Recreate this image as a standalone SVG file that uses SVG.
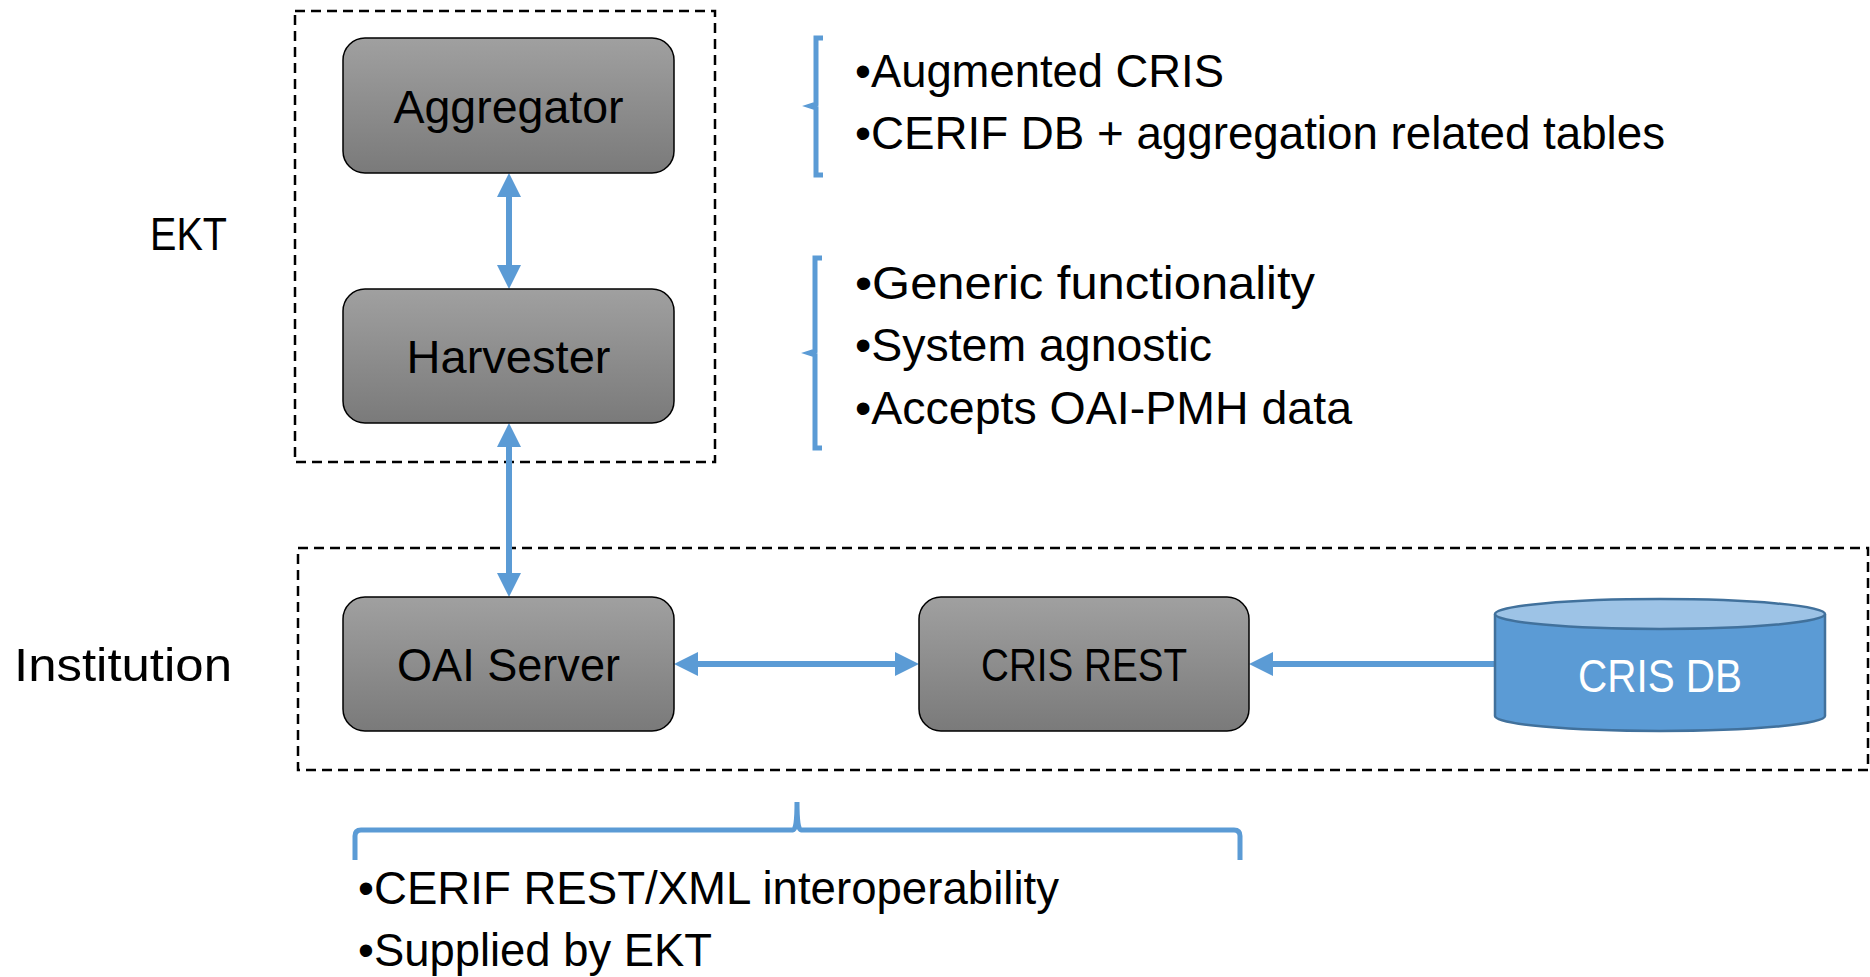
<svg xmlns="http://www.w3.org/2000/svg" width="1870" height="977" viewBox="0 0 1870 977">
<defs>
<linearGradient id="gbox" x1="0" y1="0" x2="0" y2="1">
<stop offset="0" stop-color="#a0a0a0"/>
<stop offset="1" stop-color="#7a7a7a"/>
</linearGradient>
<marker id="ah" markerUnits="userSpaceOnUse" markerWidth="24" markerHeight="24" refX="12" refY="12" orient="auto-start-reverse" viewBox="0 0 24 24">
<path d="M0,0 L24,12 L0,24 z" fill="#5b9bd5"/>
</marker>
</defs>
<style>
.t{font-family:"Liberation Sans",Arial,sans-serif;fill:#000}
.lbl{font-size:47px;text-anchor:middle}
.bul{font-size:46px}
.box{fill:url(#gbox);stroke:#000;stroke-width:1.5}
.grp{fill:none;stroke:#000;stroke-width:2.5;stroke-dasharray:10,6}
.conn{stroke:#5b9bd5;stroke-width:6;fill:none}
.brk{stroke:#5b9bd5;stroke-width:5;fill:none}
</style>
<g id="groups">
<rect class="grp" x="295" y="11" width="420" height="451"/>
<rect class="grp" x="298" y="548" width="1570" height="222"/>
<text class="t" x="150" y="250" font-size="47" textLength="77" lengthAdjust="spacingAndGlyphs">EKT</text>
<text class="t" x="14" y="681" font-size="47" textLength="218" lengthAdjust="spacingAndGlyphs">Institution</text>
</g>
<g id="connectors">
<line class="conn" x1="509" y1="185" x2="509" y2="277" marker-start="url(#ah)" marker-end="url(#ah)"/>
<line class="conn" x1="509" y1="435" x2="509" y2="585" marker-start="url(#ah)" marker-end="url(#ah)"/>
<line class="conn" x1="686" y1="664" x2="907" y2="664" marker-start="url(#ah)" marker-end="url(#ah)"/>
<line class="conn" x1="1494" y1="664" x2="1261" y2="664" marker-end="url(#ah)"/>
</g>
<g id="aggregator">
<rect class="box" x="343" y="38" width="331" height="135" rx="22"/>
<text class="t lbl" x="508.5" y="123" textLength="230" lengthAdjust="spacingAndGlyphs">Aggregator</text>
</g>
<g id="harvester">
<rect class="box" x="343" y="289" width="331" height="134" rx="22"/>
<text class="t lbl" x="508.5" y="373" textLength="204" lengthAdjust="spacingAndGlyphs">Harvester</text>
</g>
<g id="oai-server">
<rect class="box" x="343" y="597" width="331" height="134" rx="22"/>
<text class="t lbl" x="508.5" y="681" textLength="223" lengthAdjust="spacingAndGlyphs">OAI Server</text>
</g>
<g id="cris-rest">
<rect class="box" x="919" y="597" width="330" height="134" rx="22"/>
<text class="t lbl" x="1084" y="681" textLength="206" lengthAdjust="spacingAndGlyphs">CRIS REST</text>
</g>
<g id="cris-db">
<path d="M1495,614 L1495,716 A165,15 0 0 0 1825,716 L1825,614" fill="#5b9bd5" stroke="#41719c" stroke-width="2.5"/>
<ellipse cx="1660" cy="614" rx="165" ry="15" fill="#9dc3e6" stroke="#41719c" stroke-width="2.5"/>
<text class="t lbl" x="1660" y="692" style="fill:#fff" textLength="164" lengthAdjust="spacingAndGlyphs">CRIS DB</text>
</g>
<g id="note-aggregator">
<path class="brk" d="M823,38 L816,38 L816,104 L810,106 L816,108 L816,175 L823,175"/>
<text class="t bul" x="855" y="87" textLength="369" lengthAdjust="spacingAndGlyphs">•Augmented CRIS</text>
<text class="t bul" x="855" y="149" textLength="810" lengthAdjust="spacingAndGlyphs">•CERIF DB + aggregation related tables</text>
</g>
<g id="note-harvester">
<path class="brk" d="M822,258 L815,258 L815,351 L809,353 L815,355 L815,448 L822,448"/>
<text class="t bul" x="855" y="299" textLength="460" lengthAdjust="spacingAndGlyphs">•Generic functionality</text>
<text class="t bul" x="855" y="361" textLength="357" lengthAdjust="spacingAndGlyphs">•System agnostic</text>
<text class="t bul" x="855" y="424" textLength="497" lengthAdjust="spacingAndGlyphs">•Accepts OAI-PMH data</text>
</g>
<g id="note-institution">
<path class="brk" d="M355,860 L355,836 Q355,830 361,830 L793,830 Q797,830 797,802 Q797,830 801,830 L1234,830 Q1240,830 1240,836 L1240,860"/>
<text class="t bul" x="358" y="904" textLength="701" lengthAdjust="spacingAndGlyphs">•CERIF REST/XML interoperability</text>
<text class="t bul" x="358" y="966" textLength="354" lengthAdjust="spacingAndGlyphs">•Supplied by EKT</text>
</g>
</svg>
